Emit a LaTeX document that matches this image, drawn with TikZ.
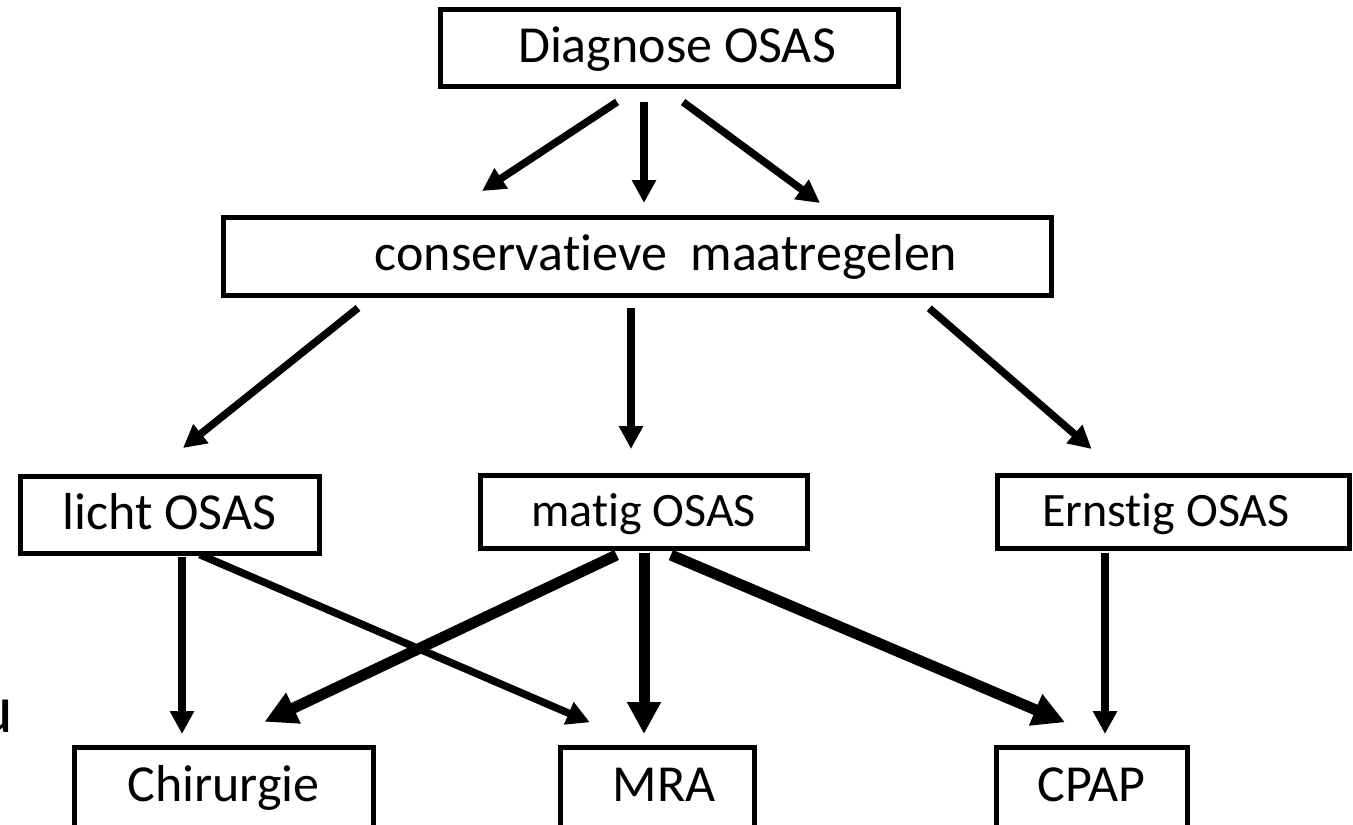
\documentclass[tikz,border=0pt]{standalone}
\usepackage{fontspec}
\setmainfont{Carlito}[Ligatures=NoCommon]
\usetikzlibrary{arrows.meta,calc}

\begin{document}
\begin{tikzpicture}[x=0.5pt, y=-0.5pt,
    box/.style = {draw, line width=2.5pt, inner sep=0pt, outer sep=0pt, text height=17pt, text depth=2.5pt, font=\fontsize{26}{30}\selectfont},
    small/.style = {font=\fontsize{24}{28}\selectfont},
    arr/.style = {line width=3.75pt, -{Triangle[width=11.5pt, length=11.5pt]}},
    heavy/.style = {line width=5.5pt, -{Triangle[width=16pt, length=16pt]}}]
        \useasboundingbox (0,0) rectangle (1353,824);

        \node[box, minimum width=229pt, minimum height=38.5pt] (diag) at (669,48.5) {\hspace*{8pt}Diagnose OSAS};
        \node[box, minimum width=414pt, minimum height=39pt] (cons) at (637,256) {\hspace*{29pt}conservatieve\ \ maatregelen};

        \node[box, minimum width=149.5pt, minimum height=38.5pt] (licht) at (169.5,514.5) {licht OSAS};
        \node[box, small, minimum width=163.5pt, minimum height=36.5pt] (matig) at (643.5,511.5) {matig OSAS};
        \node[box, small, minimum width=176pt, minimum height=36.5pt] (ernstig) at (1173,511.5) {\hspace*{-7pt}Ernstig OSAS};

        \node[box, minimum width=149.5pt, minimum height=40pt] (chir) at (223.5,787) {Chirurgie};
        \node[box, minimum width=97pt, minimum height=40pt] (mra) at (657,787) {\hspace*{7pt}MRA};
        \node[box, minimum width=95.5pt, minimum height=40pt] (cpap) at (1091.5,787) {CPAP};

        \node[font=\fontsize{34}{40}\selectfont, inner sep=0pt, anchor=base east] (frag) at (14,732) {u};

        \draw[arr, shorten <=13.6pt, shorten >=23.6pt] ($(diag.south)+(-29.25,0)$) -- ($(cons.north)+(-194.4,0)$);
        \draw[arr, shorten <=7.5pt, shorten >=7pt] ($(diag.south)+(-25,0)$) -- ($(cons.north)+(7,0)$);
        \draw[arr, shorten <=12.65pt, shorten >=11.8pt] ($(diag.south)+(-6.3,0)$) -- ($(cons.north)+(202,0)$);

        \draw[arr, shorten <=10.4pt, shorten >=22.4pt] ($(cons.south)+(-262.75,0)$) -- ($(licht.north)+(-21.5,0)$);
        \draw[arr, shorten <=6.5pt, shorten >=13pt] ($(cons.south)+(-6,0)$) -- ($(matig.north)+(-12.5,0)$);
        \draw[arr, shorten <=10.15pt, shorten >=19.85pt] ($(cons.south)+(276.95,0)$) -- ($(ernstig.north)+(-51.3,0)$);

        \draw[arr, shorten <=2pt, shorten >=6.5pt] ($(licht.south)+(12.5,0)$) -- ($(chir.north)+(-41.5,0)$);
        \draw[arr, shorten <=2pt, shorten >=31.25pt] ($(licht.south)+(26.5,0)$) -- ($(mra.north)+(-9.7,0)$);

        \draw[heavy, shorten <=8.2pt, shorten >=29.5pt] ($(matig.south)+(-12.1,0)$) -- ($(chir.north)+(-12.3,0)$);
        \draw[heavy, shorten <=2.5pt, shorten >=6.5pt] ($(matig.south)+(0.5,0)$) -- ($(mra.north)+(-13,0)$);
        \draw[heavy, shorten <=9pt, shorten >=31.6pt] ($(matig.south)+(10.8,0)$) -- ($(cpap.north)+(31.7,0)$);

        \draw[arr, shorten <=2.5pt, shorten >=6.5pt] ($(ernstig.south)+(-68,0)$) -- ($(cpap.north)+(13.5,0)$);
\end{tikzpicture}
\end{document}
